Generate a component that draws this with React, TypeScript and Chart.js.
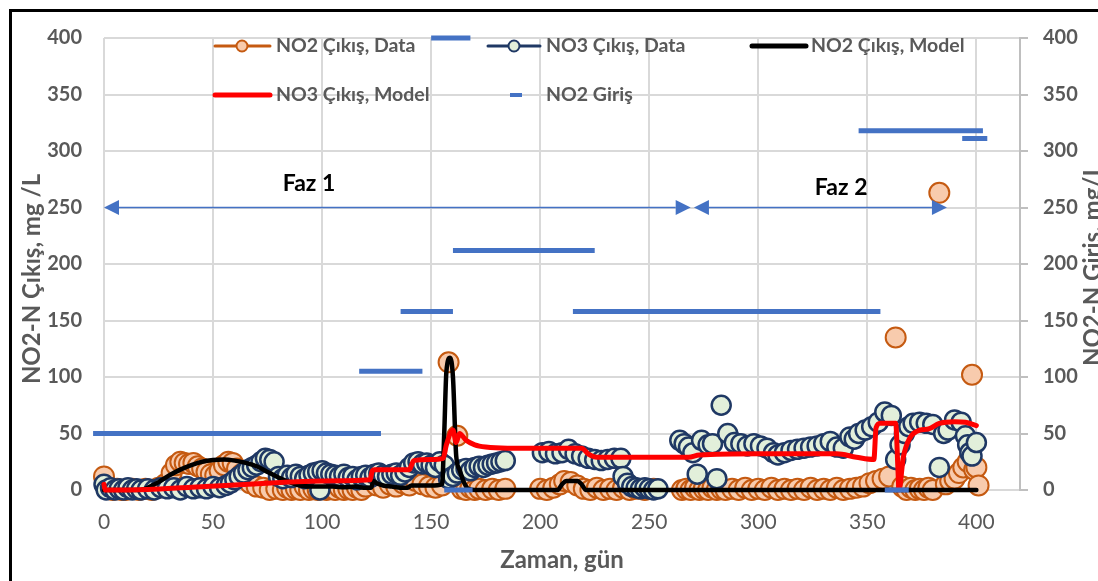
import React, { useEffect, useRef } from "react";
import { Chart, registerables } from "chart.js";

Chart.register(...registerables);

const FONT = "Lato, 'Open Sans', sans-serif";
const GRAY = "#595959";
const BLUE = "#4472C4";

// ---------------- data ----------------
const xTickValues = [0, 50, 100, 150, 200, 250, 300, 350, 400];
const yTickValues = [0, 50, 100, 150, 200, 250, 300, 350, 400];

const no2DataDays = [
  0, 2, 4, 6, 8, 10, 13, 16, 19, 22, 25, 28, 31, 33, 35, 37, 39, 41, 43, 45, 47, 49, 51, 53, 55, 57, 59, 61, 63, 65, 67,
  70, 73, 76, 79, 82, 84, 86, 88, 90, 92, 94, 96, 98, 100, 102, 104, 106, 108, 110, 112, 114, 116, 118, 120, 122, 125,
  128, 131, 134, 137, 140, 143, 146, 149, 152, 155, 158, 162, 164, 166, 168, 170, 172, 175, 178, 181, 184,
  200, 203, 206, 209, 211, 214, 217, 220, 223, 226, 229, 232, 235, 238, 241, 244, 248, 252,
  265, 267, 269, 271, 273, 275, 277, 279, 281, 283, 285, 288, 291, 294, 297, 300, 303, 306, 309, 312, 315, 318, 321,
  324, 327, 330, 333, 336, 339, 342, 345, 348, 351, 354, 357, 360, 363, 366, 368, 370, 372, 374, 376, 378, 380, 383,
  386, 388, 390, 392, 394, 396, 398, 399, 400, 401,
];
const no2DataValues = [
  12, 2, 0, 1, 0, 0, 1, 0, 1, 0, 2, 5, 15, 22, 25, 24, 23, 24, 21, 19, 16, 14, 13, 17, 22, 25, 24, 19, 14, 10, 6,
  3, 2, 0, 1, 0, 2, 0, 1, 0, 3, 0, 1, 0, 2, 0, 1, 0, 2, 0, 1, 0, 2, 0, 3, 9, 4,
  2, 5, 3, 6, 4, 8, 5, 3, 2, 4, 113, 48, 1, 0, 2, 0, 1, 0, 1, 0, 1,
  1, 0, 2, 5, 8, 7, 4, 1, 0, 2, 0, 1, 0, 2, 0, 1, 0, 1,
  0, 1, 0, 2, 0, 1, 0, 2, 0, 1, 0, 1, 0, 2, 0, 1, 0, 2, 0, 1, 0, 1, 0,
  2, 0, 1, 0, 2, 0, 1, 2, 3, 6, 8, 10, 12, 135, 3, 0, 2, 0, 1, 0, 2, 0, 263,
  5, 8, 10, 15, 20, 25, 102, 18, 20, 4,
];

const no3DataDays = [
  0, 1, 3, 5, 7, 9, 11, 13, 15, 17, 20, 23, 26, 29, 32, 35, 38, 41, 44, 47, 50, 53, 56, 58, 60, 62, 64, 66, 68, 70, 72,
  74, 76, 78, 80, 82, 84, 86, 88, 90, 92, 94, 96, 98, 99, 100, 102, 104, 106, 108, 110, 112, 114, 116, 118, 120, 122,
  124, 126, 128, 130, 132, 134, 136, 138, 140, 142, 144, 146, 148, 150, 152, 154, 156, 158, 160, 162, 164, 166, 168,
  170, 172, 174, 176, 178, 180, 182, 184,
  201, 204, 207, 210, 213, 216, 219, 222, 225, 228, 231, 234, 237, 238, 240, 242, 244, 246, 248, 250, 252, 254,
  264, 266, 268, 270, 272, 274, 277, 279, 281, 283, 286, 289, 292, 295, 298, 301, 304, 307, 309, 312, 315, 318, 321,
  324, 327, 330, 333, 336, 339, 342, 344, 346, 349, 352, 355, 358, 361, 363, 365, 367, 369, 371, 374, 377, 380, 383,
  385, 387, 390, 393, 395, 396, 397, 398, 400,
];
const no3DataValues = [
  5, 0, 2, 0, 1, 0, 2, 0, 1, 0, 1, 0, 2, 1, 2, 0, 3, 1, 2, 1, 3, 2, 4, 6, 9, 12, 15, 18, 20, 22, 25,
  28, 27, 25, 12, 10, 13, 11, 14, 12, 10, 13, 15, 16, 0, 17, 15, 14, 13, 12, 14, 11, 12, 9, 12, 13, 11,
  14, 15, 13, 12, 14, 15, 13, 16, 20, 24, 25, 23, 24, 22, 20, 25, 22, 10, 12, 15, 18, 19, 17,
  20, 21, 20, 22, 23, 24, 25, 26,
  33, 34, 32, 33, 36, 32, 30, 28, 27, 26, 27, 28, 28, 12, 6, 3, 2, 1, 2, 1, 0, 1,
  44, 41, 38, 33, 14, 44, 40, 41, 10, 75, 50, 42, 41, 39, 41, 39, 37, 33, 31, 33, 35, 36, 37,
  38, 39, 41, 43, 38, 37, 47, 45, 50, 53, 56, 60, 69, 66, 27, 40, 50, 56, 59, 60, 59, 58, 20,
  50, 53, 62, 60, 48, 40, 33, 30, 42,
];

const no2ModelDays = [
  0, 16, 20, 25, 30, 35, 40, 45, 50, 55, 60, 65, 70, 75, 80, 85, 90, 95, 100, 105, 110, 115, 120, 122.5, 123.5, 125,
  128, 132, 136, 139, 141, 145, 150, 155, 156, 157, 158.7, 160, 161.5, 163, 165, 167, 170, 208, 210, 212, 217, 219,
  221, 400,
];
const no2ModelValues = [
  0, 0, 2, 7, 13, 18, 22, 25, 26.5, 27, 26, 24, 21, 16, 11, 7, 4, 3, 3, 3, 2.5, 3, 2, 2, 8, 6,
  4, 3, 2, 2, 4, 4, 4, 5, 50, 105, 117, 100, 30, 18, 7, 1, 0, 0, 5, 8, 8, 5,
  0, 0,
];

const no3ModelDays = [
  0, 0.5, 20, 40, 60, 85, 100, 122, 123, 124, 140, 141, 142, 150, 155.5, 157, 160, 161.5, 163, 166, 170, 175, 185, 200,
  219, 222, 226, 240, 268, 273, 300, 336, 345, 353, 354, 356, 363, 364, 364.5, 366.5, 369.5, 374, 378, 383, 390, 395,
  400,
];
const no3ModelValues = [
  5, 0, 0.5, 2.5, 4.5, 7, 8, 9, 17, 18, 18, 22, 26, 27, 28, 40, 53, 42, 50, 44, 40, 38, 37, 37,
  37, 32, 29, 29, 29, 31, 32, 32, 29, 27, 55, 59, 59, 20, 0, 29, 46, 53, 54, 59, 60.5, 60,
  57,
];

// NO2 Giriş: horizontal segments (start day, end day, level)
const no2InStart = [-5, 117, 136, 160, 215, 150, 156, 358, 346, 393.5];
const no2InEnd = [127, 146, 160, 225, 356, 168, 169, 369, 403, 405];
const no2InLevel = [50, 105, 158, 212, 158, 400, 0, 0, 318, 311];

// phase annotations
const phaseLabels = ["Faz 1", "Faz 2"];
const phaseStart = [0, 270.5];
const phaseEnd = [269, 386.5];
const phaseLevel = 250;
const phaseLabelX = [94, 338];
const phaseLabelY = [271, 268];

const seriesNames = ["NO2 Çıkış, Data", "NO3 Çıkış, Data", "NO2 Çıkış, Model", "NO3 Çıkış, Model", "NO2 Giriş"];
const axisTitles = { x: "Zaman, gün", yLeft: "NO2-N Çıkış, mg /L", yRight: "NO2-N Giriş, mg/L" };

// ---------------- helpers ----------------
const zip = (xs: number[], ys: number[]) => xs.map((x, i) => ({ x, y: ys[i] }));

const segmentPoints = () => {
  const pts: { x: number; y: number | null }[] = [];
  no2InStart.forEach((s, i) => {
    pts.push({ x: s, y: no2InLevel[i] });
    pts.push({ x: no2InEnd[i], y: no2InLevel[i] });
    pts.push({ x: no2InEnd[i], y: null });
  });
  return pts;
};

const drawRotated = (ctx: CanvasRenderingContext2D, text: string, bx: number, cy: number) => {
  ctx.save();
  ctx.translate(bx, cy);
  ctx.rotate(-Math.PI / 2);
  ctx.textAlign = "center";
  ctx.textBaseline = "alphabetic";
  ctx.fillText(text, 0, 0);
  ctx.restore();
};

const decor = {
  id: "decor",
  beforeDraw(chart: any) {
    const { ctx, width, height } = chart;
    ctx.save();
    ctx.fillStyle = "#ffffff";
    ctx.fillRect(0, 0, width, height);
    ctx.restore();
  },
  afterDatasetsDraw(chart: any) {
    const { ctx } = chart;
    const x = chart.scales.x;
    const y = chart.scales.y;
    ctx.save();
    ctx.strokeStyle = BLUE;
    ctx.fillStyle = BLUE;
    ctx.lineWidth = 1.5;
    const head = 15;
    const hw = 7.5;
    phaseStart.forEach((s, i) => {
      const x1 = x.getPixelForValue(s);
      const x2 = x.getPixelForValue(phaseEnd[i]);
      const py = y.getPixelForValue(phaseLevel);
      ctx.beginPath();
      ctx.moveTo(x1 + head, py);
      ctx.lineTo(x2 - head, py);
      ctx.stroke();
      ctx.beginPath();
      ctx.moveTo(x1, py);
      ctx.lineTo(x1 + head, py - hw);
      ctx.lineTo(x1 + head, py + hw);
      ctx.closePath();
      ctx.fill();
      ctx.beginPath();
      ctx.moveTo(x2, py);
      ctx.lineTo(x2 - head, py - hw);
      ctx.lineTo(x2 - head, py + hw);
      ctx.closePath();
      ctx.fill();
    });
    ctx.fillStyle = "#000000";
    ctx.font = `bold 23px ${FONT}`;
    ctx.textAlign = "center";
    ctx.textBaseline = "middle";
    phaseLabels.forEach((t, i) => {
      ctx.fillText(t, x.getPixelForValue(phaseLabelX[i]), y.getPixelForValue(phaseLabelY[i]));
    });
    ctx.restore();
  },
  afterDraw(chart: any) {
    const { ctx } = chart;
    ctx.save();
    // legend
    const r1 = 46;
    const r2 = 95;
    const lineSample = (x1: number, x2: number, yy: number, color: string, w: number) => {
      ctx.beginPath();
      ctx.strokeStyle = color;
      ctx.lineWidth = w;
      ctx.lineCap = "round";
      ctx.moveTo(x1, yy);
      ctx.lineTo(x2, yy);
      ctx.stroke();
    };
    const marker = (cx: number, cy: number, fill: string, stroke: string) => {
      ctx.beginPath();
      ctx.arc(cx, cy, 5.5, 0, Math.PI * 2);
      ctx.fillStyle = fill;
      ctx.fill();
      ctx.lineWidth = 2;
      ctx.strokeStyle = stroke;
      ctx.stroke();
    };
    lineSample(215, 270, r1, "#C55A11", 3);
    marker(242, r1, "#F8CBAD", "#C55A11");
    lineSample(488, 540, r1, "#1F3864", 3);
    marker(514, r1, "#E2EFDA", "#1F3864");
    lineSample(752, 806, r1, "#000000", 5);
    lineSample(215, 270, r2, "#FF0000", 5);
    ctx.fillStyle = BLUE;
    ctx.fillRect(510, r2 - 2, 12, 4);

    ctx.fillStyle = GRAY;
    ctx.font = `bold 19.5px ${FONT}`;
    ctx.textAlign = "left";
    ctx.textBaseline = "middle";
    ctx.fillText(seriesNames[0], 276, r1);
    ctx.fillText(seriesNames[1], 546, r1);
    ctx.fillText(seriesNames[2], 811, r1);
    ctx.fillText(seriesNames[3], 276, r2);
    ctx.fillText(seriesNames[4], 546, r2);

    // vertical axis titles
    ctx.font = `bold 24px ${FONT}`;
    ctx.fillStyle = GRAY;
    drawRotated(ctx, axisTitles.yLeft, 40, 279);
    drawRotated(ctx, axisTitles.yRight, 1101, 265);

    // outer frame
    ctx.strokeStyle = "#000000";
    ctx.lineWidth = 3;
    ctx.strokeRect(10.5, 10.5, 1105, 582);
    ctx.restore();
  },
};

export default function App() {
  const ref = useRef<HTMLCanvasElement | null>(null);

  useEffect(() => {
    if (!ref.current) return;
    const tickFontBold = { family: FONT, size: 20, weight: "bold" as const };
    const chart = new Chart(ref.current, {
      type: "line",
      data: {
        datasets: [
          {
            label: seriesNames[4],
            data: segmentPoints() as any,
            borderColor: BLUE,
            borderWidth: 5,
            borderCapStyle: "butt",
            pointRadius: 0,
            spanGaps: false,
            clip: false as any,
            yAxisID: "y2",
            order: 0,
          },
          {
            label: seriesNames[3],
            data: zip(no3ModelDays, no3ModelValues),
            borderColor: "#FF0000",
            borderWidth: 5,
            borderJoinStyle: "round",
            borderCapStyle: "round",
            pointRadius: 0,
            cubicInterpolationMode: "monotone",
            clip: false as any,
            yAxisID: "y",
            order: 1,
          },
          {
            label: seriesNames[2],
            data: zip(no2ModelDays, no2ModelValues),
            borderColor: "#000000",
            borderWidth: 4.5,
            borderJoinStyle: "round",
            borderCapStyle: "round",
            pointRadius: 0,
            cubicInterpolationMode: "monotone",
            clip: false as any,
            yAxisID: "y",
            order: 2,
          },
          {
            label: seriesNames[1],
            data: zip(no3DataDays, no3DataValues),
            showLine: false,
            pointRadius: 9.5,
            pointBorderWidth: 2.5,
            pointBackgroundColor: "#E2EFDA",
            pointBorderColor: "#1F3864",
            borderColor: "#1F3864",
            clip: false as any,
            yAxisID: "y",
            order: 3,
          },
          {
            label: seriesNames[0],
            data: zip(no2DataDays, no2DataValues),
            showLine: false,
            pointRadius: 10,
            pointBorderWidth: 2,
            pointBackgroundColor: "#F8CBAD",
            pointBorderColor: "#C55A11",
            borderColor: "#C55A11",
            clip: false as any,
            yAxisID: "y",
            order: 4,
          },
        ],
      },
      options: {
        responsive: false,
        animation: false,
        events: [],
        layout: { padding: { top: 38, left: 0, right: 0, bottom: 0 } },
        plugins: { legend: { display: false }, tooltip: { enabled: false } },
        scales: {
          x: {
            type: "linear",
            min: 0,
            max: 420,
            afterFit: (s: any) => {
              s.height = 110;
            },
            afterBuildTicks: (s: any) => {
              s.ticks = xTickValues.map((v) => ({ value: v }));
            },
            ticks: { font: { family: FONT, size: 21 }, color: GRAY, padding: 15, maxRotation: 0, autoSkip: false },
            grid: { color: "#D9D9D9", lineWidth: 2, drawTicks: true, tickLength: 5 },
            border: { display: false },
            title: {
              display: true,
              text: axisTitles.x,
              font: { family: FONT, size: 24, weight: "bold" },
              color: GRAY,
              padding: { top: 0, bottom: 25 },
            },
          },
          y: {
            type: "linear",
            position: "left",
            min: 0,
            max: 400,
            afterFit: (s: any) => {
              s.width = 104;
            },
            afterBuildTicks: (s: any) => {
              s.ticks = yTickValues.map((v) => ({ value: v }));
            },
            ticks: { font: tickFontBold, color: GRAY, padding: 22 },
            grid: { color: "#D9D9D9", lineWidth: 2, drawTicks: false },
            border: { display: false },
          },
          y2: {
            type: "linear",
            position: "right",
            min: 0,
            max: 400,
            afterFit: (s: any) => {
              s.width = 110;
            },
            afterBuildTicks: (s: any) => {
              s.ticks = yTickValues.map((v) => ({ value: v }));
            },
            ticks: { font: tickFontBold, color: GRAY, padding: 15 },
            grid: { drawOnChartArea: false, drawTicks: true, tickLength: 8, color: "#BFBFBF", lineWidth: 2 },
            border: { display: true, color: "#BFBFBF", width: 2 },
          },
        },
      },
      plugins: [decor as any],
    });
    return () => chart.destroy();
  }, []);

  return (
    <div
      style={{
        position: "fixed",
        left: 0,
        top: 0,
        width: 1098,
        height: 581,
        overflow: "hidden",
        background: "#ffffff",
      }}
    >
      <canvas ref={ref} width={1130} height={600} style={{ display: "block", width: 1130, height: 600 }} />
    </div>
  );
}
